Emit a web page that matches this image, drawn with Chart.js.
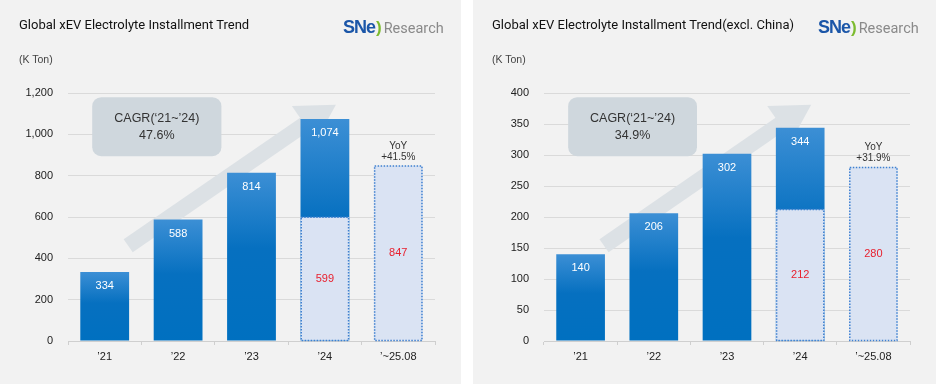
<!DOCTYPE html>
<html>
<head>
<meta charset="utf-8">
<script src="https://cdn.jsdelivr.net/npm/chart.js@4"></script>
<style>
	body { margin: 0; width: 936px; height: 384px; background: #fff; font-family: "Liberation Sans", Arial, sans-serif; position: relative; overflow: hidden; }
	.panel { position: absolute; top: 0; height: 384px; background: #f2f2f2; }
	.panel canvas { position: absolute; left: 0; top: 0; }
	.title { position: absolute; left: 19px; top: 17px; font-family: Roboto, sans-serif; font-size: 13px; color: #111; white-space: nowrap; }
	.unit { position: absolute; left: 19px; top: 53px; font-size: 10.5px; color: #444; }
	.logo { position: absolute; top: 17px; white-space: nowrap; }
	.logo .sne { font-weight: bold; font-size: 18px; color: #1b56a8; letter-spacing: -1px; }
	.logo .arc { font-weight: bold; font-size: 17px; color: #7cbb2f; margin: 0 2px 0 1px; }
	.logo .res { font-family: Roboto, sans-serif; font-size: 14.5px; color: #8a8a8a; }
</style>
</head>
<body>
<div class="panel" style="left:0;width:461px">
	<canvas id="left-chart" width="461" height="384"></canvas>
	<div class="title">Global xEV Electrolyte Installment Trend</div>
	<div class="unit">(K Ton)</div>
	<div class="logo" style="left:343px"><span class="sne">SNe</span><span class="arc">)</span><span class="res">Research</span></div>
</div>
<div class="panel" style="left:473px;width:463px">
	<canvas id="right-chart" width="463" height="384"></canvas>
	<div class="title">Global xEV Electrolyte Installment Trend(excl. China)</div>
	<div class="unit">(K Ton)</div>
	<div class="logo" style="left:345px"><span class="sne">SNe</span><span class="arc">)</span><span class="res">Research</span></div>
</div>
<script>
const years = ["’21", "’22", "’23", "’24", "’~25.08"];

const globalTotal = [334, 588, 814, 1074, null];
const globalPart = [null, null, null, 599, 847];
const exclTotal = [140, 206, 302, 344, null];
const exclPart = [null, null, null, 212, 280];

const globalAxis = { max: 1200, step: 200 };
const exclAxis = { max: 400, step: 50 };

const cagrLabel = "CAGR(‘21~’24)";
const globalCagr = "47.6%";
const exclCagr = "34.9%";
const globalYoy = "+41.5%";
const exclYoy = "+31.9%";

// decorative arrow, [category index, share of axis max]
const arrowBand = [[0.32, 0.384], [2.73, 0.875]];
const arrowHead = [[2.55, 0.948], [3.15, 0.953], [2.88, 0.806]];
// CAGR box, [category index, share of axis max]
const cagrBox = [[-0.17, 0.983], [1.59, 0.745]];

const FONT = "'Liberation Sans', Arial, sans-serif";

function barGradient(ctx) {
	const chart = ctx.chart;
	if (!chart.chartArea) return '#0070c0';
	const y = chart.scales.y;
	const v = ctx.dataset.data[ctx.dataIndex] || 0;
	const top = y.getPixelForValue(v);
	const base = y.getPixelForValue(0);
	const g = chart.ctx.createLinearGradient(0, top, 0, base);
	g.addColorStop(0, '#3c8fd5');
	g.addColorStop(0.45, '#0670c0');
	g.addColorStop(1, '#0070c0');
	return g;
}

const decorPlugin = {
	id: 'decor',
	beforeDatasetsDraw(chart, args, opts) {
		const ctx = chart.ctx;
		const xs = chart.scales.x, ys = chart.scales.y;
		const max = ys.max;
		const px = (p) => [xs.getPixelForValue(p[0]), ys.getPixelForValue(p[1] * max)];
		ctx.save();
		// arrow
		ctx.fillStyle = '#dce1e5';
		const a = px(arrowBand[0]), b = px(arrowBand[1]);
		const dx = b[0] - a[0], dy = b[1] - a[1];
		const len = Math.hypot(dx, dy);
		const nx = -dy / len * 8, ny = dx / len * 8;
		ctx.beginPath();
		ctx.moveTo(a[0] + nx, a[1] + ny);
		ctx.lineTo(b[0] + nx, b[1] + ny);
		ctx.lineTo(b[0] - nx, b[1] - ny);
		ctx.lineTo(a[0] - nx, a[1] - ny);
		ctx.closePath();
		ctx.fill();
		ctx.beginPath();
		arrowHead.map(px).forEach((p, i) => i ? ctx.lineTo(p[0], p[1]) : ctx.moveTo(p[0], p[1]));
		ctx.closePath();
		ctx.fill();
		// CAGR box
		const p1 = px(cagrBox[0]), p2 = px(cagrBox[1]);
		ctx.fillStyle = '#cfd7dd';
		ctx.beginPath();
		ctx.roundRect(p1[0], p1[1], p2[0] - p1[0], p2[1] - p1[1], 9);
		ctx.fill();
		ctx.fillStyle = '#333';
		ctx.font = '12.5px ' + FONT;
		ctx.textAlign = 'center';
		ctx.textBaseline = 'middle';
		const cx = (p1[0] + p2[0]) / 2;
		ctx.fillText(cagrLabel, cx, p1[1] + 21);
		ctx.fillText(opts.cagr, cx, p1[1] + 38);
		ctx.restore();
	},
	afterDatasetsDraw(chart, args, opts) {
		const ctx = chart.ctx;
		ctx.save();
		ctx.textAlign = 'center';
		ctx.textBaseline = 'middle';
		// dark bars: white value near top
		const dark = chart.getDatasetMeta(0);
		dark.data.forEach((bar, i) => {
			const v = chart.data.datasets[0].data[i];
			if (v == null) return;
			ctx.fillStyle = '#fff';
			ctx.font = '11px ' + FONT;
			ctx.fillText(v.toLocaleString('en-US'), bar.x, bar.y + 14);
		});
		// light bars: dotted outline, red value in the middle
		const light = chart.getDatasetMeta(1);
		let last = null;
		light.data.forEach((bar, i) => {
			const v = chart.data.datasets[1].data[i];
			if (v == null) return;
			const w = bar.width;
			ctx.strokeStyle = '#3f80d0';
			ctx.lineWidth = 1.5;
			ctx.setLineDash([1.5, 1.5]);
			ctx.strokeRect(bar.x - w / 2 + 0.75, bar.y, w - 1.5, bar.base - bar.y);
			ctx.setLineDash([]);
			ctx.fillStyle = '#e8202e';
			ctx.font = '11px ' + FONT;
			ctx.fillText(v.toLocaleString('en-US'), bar.x, (bar.y + bar.base) / 2);
			last = bar;
		});
		if (last) {
			ctx.fillStyle = '#333';
			ctx.font = '10px ' + FONT;
			ctx.fillText('YoY', last.x, last.y - 20);
			ctx.fillText(opts.yoy, last.x, last.y - 9);
		}
		ctx.restore();
	}
};

function makeChart(id, total, part, axis, cagr, yoy, axisWidth) {
	return new Chart(document.getElementById(id), {
		type: 'bar',
		data: {
			labels: years,
			datasets: [
				{ data: total, backgroundColor: barGradient, grouped: false, order: 2, barPercentage: 0.665, categoryPercentage: 1 },
				{ data: part, backgroundColor: '#dae3f3', grouped: false, order: 1, barPercentage: 0.665, categoryPercentage: 1 }
			]
		},
		options: {
			responsive: false,
			animation: false,
			layout: { padding: { left: 0, right: 26, top: 93, bottom: 13 } },
			plugins: {
				legend: { display: false },
				tooltip: { enabled: false },
				decor: { cagr: cagr, yoy: yoy }
			},
			scales: {
				x: {
					grid: { drawOnChartArea: false, tickLength: 4, color: '#cfcfcf' },
					border: { color: '#cfcfcf' },
					ticks: { color: '#222', font: { family: FONT, size: 11 }, padding: 5 },
					afterFit: (s) => { s.height = 30; }
				},
				y: {
					min: 0,
					max: axis.max,
					grid: { color: '#dadada', drawTicks: false },
					border: { display: false },
					ticks: { stepSize: axis.step, color: '#222', font: { family: FONT, size: 11 }, padding: 15 },
					afterFit: (s) => { s.width = axisWidth; }
				}
			}
		},
		plugins: [decorPlugin]
	});
}

makeChart('left-chart', globalTotal, globalPart, globalAxis, globalCagr, globalYoy, 68);
makeChart('right-chart', exclTotal, exclPart, exclAxis, exclCagr, exclYoy, 71);
</script>
</body>
</html>
